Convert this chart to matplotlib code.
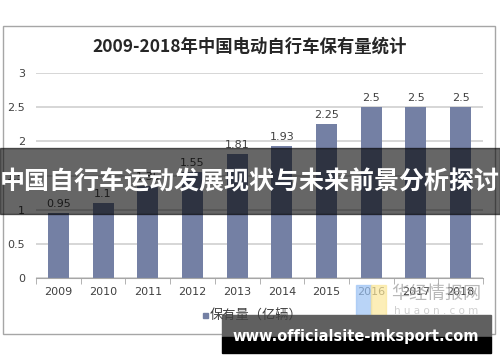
import matplotlib.pyplot as plt
from matplotlib.patches import Rectangle

plt.rcParams['font.family'] = ['Noto Sans CJK SC', 'DejaVu Sans']

years = ['2009', '2010', '2011', '2012', '2013', '2014', '2015', '2016', '2017', '2018']
values = [0.95, 1.1, 1.35, 1.55, 1.81, 1.93, 2.25, 2.5, 2.5, 2.5]
labels = ['0.95', '1.1', '1.35', '1.55', '1.81', '1.93', '2.25', '2.5', '2.5', '2.5']
yticks = [0, 0.5, 1, 1.5, 2, 2.5, 3]
ytick_labels = ['0', '0.5', '1', '1.5', '2', '2.5', '3']

W, H = 500, 362
fig = plt.figure(figsize=(W / 100, H / 100), dpi=100)

def fx(px):
    return px / W

def fy(py):
    return 1 - py / H

# chart frame
fig.patches.append(Rectangle((fx(3), fy(334)), fx(495) - fx(3), fy(26) - fy(334),
                             transform=fig.transFigure, fill=False, ec='#a6a6a6', lw=1))

ax = fig.add_axes([fx(36), fy(278.3), fx(483) - fx(36), fy(72.7) - fy(278.3)])
xs = list(range(len(years)))
bar_color = '#7480a4'
ax.bar(xs, values, width=0.47, color=bar_color, zorder=2)
for x, v, t in zip(xs, values, labels):
    ax.text(x, v + 0.06, t, ha='center', va='bottom', fontsize=8, color='#404040',
            family='DejaVu Sans')

ax.set_xlim(-0.5, 9.5)
ax.set_ylim(0, 3)
ax.set_yticks(yticks)
ax.set_yticklabels(ytick_labels, family='DejaVu Sans', fontsize=8, color='#404040')
ax.yaxis.grid(True, color='#d0d0d0', lw=1.2, zorder=0)
ax.tick_params(axis='y', length=0, pad=8)
ax.set_xticks(xs)
ax.set_xticklabels(years, family='DejaVu Sans', fontsize=8, color='#404040')
ax.set_xticks([i - 0.5 for i in range(11)], minor=True)
ax.tick_params(axis='x', which='major', length=0, pad=6)
ax.tick_params(axis='x', which='minor', length=4, color='#a6a6a6')
for s in ['top', 'right', 'left']:
    ax.spines[s].set_visible(False)
ax.spines['bottom'].set_color('#a6a6a6')
ax.set_axisbelow(True)

fig.text(0.5, fy(47), '2009-2018年中国电动自行车保有量统计', ha='center', va='center',
         fontsize=12.5, fontweight='bold', color='#262626')

# legend
fig.patches.append(Rectangle((fx(203), fy(318)), fx(5), fy(313) - fy(318),
                             transform=fig.transFigure, color=bar_color))
fig.text(fx(210), fy(316), '保有量（亿辆）', ha='left', va='center', fontsize=9.5, color='#404040')

# watermark
fig.patches.append(Rectangle((fx(356), fy(317)), fx(15), fy(285) - fy(317),
                             transform=fig.transFigure, color='#9cc3f5', alpha=0.7))
fig.patches.append(Rectangle((fx(371), fy(317)), fx(15), fy(285) - fy(317),
                             transform=fig.transFigure, color='#fbe79a', alpha=0.7))
fig.text(fx(436), fy(294), '华经情报网', ha='center', va='center', fontsize=13,
         color='#a0a0a0', alpha=0.75)
fig.text(fx(436), fy(311), 'h u a o n . c o m', ha='center', va='center', fontsize=7.5,
         color='#c0c0c0', alpha=0.75, family='DejaVu Sans')

# banner
fig.patches.append(Rectangle((0, fy(214)), 1, fy(148) - fy(214),
                             transform=fig.transFigure, color='black', alpha=0.6))
fig.text(0.5, fy(182), '中国自行车运动发展现状与未来前景分析探讨', ha='center', va='center',
         fontsize=18, fontweight='bold', color='white')

# url box
fig.patches.append(Rectangle((fx(222), fy(337)), fx(491) - fx(222), fy(315) - fy(337),
                             transform=fig.transFigure, color='#606060'))
fig.patches.append(Rectangle((fx(222), fy(353)), fx(491) - fx(222), fy(337) - fy(353),
                             transform=fig.transFigure, color='black'))
fig.text(fx(356), fy(337), 'www.officialsite-mksport.com', ha='center', va='center',
         fontsize=10.5, fontweight='bold', color='white', family='DejaVu Sans')

fig.savefig('out.png', dpi=100)
